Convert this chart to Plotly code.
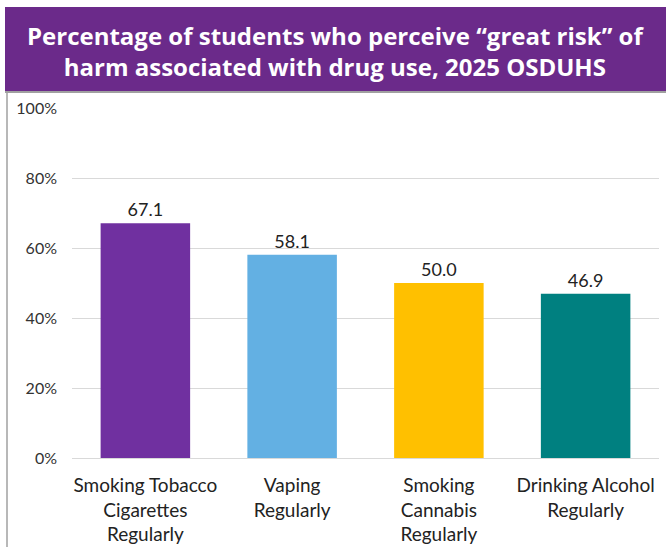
import plotly.graph_objects as go

categories = ["Smoking Tobacco<br>Cigarettes<br>Regularly", "Vaping<br>Regularly",
              "Smoking<br>Cannabis<br>Regularly", "Drinking Alcohol<br>Regularly"]
values = [67.1, 58.1, 50.0, 46.9]
colors = ["#7030A0", "#63B0E3", "#FFC000", "#008080"]
title_text = "Percentage of students who perceive “great risk” of<br>harm associated with drug use, 2025 OSDUHS"

W, H = 666, 547
L, R, T, B = 72, 7, 108, 89
pw, ph = W - L - R, H - T - B

def px(x):
    return (x - L) / pw

def py(y):
    return (H - B - y) / ph

fig = go.Figure(go.Bar(
    x=categories, y=values, marker=dict(color=colors, line=dict(width=0)),
    text=[f"{v:.1f}" for v in values], textposition="outside",
    textfont=dict(family="Lato", size=18, color="#222222"),
    cliponaxis=False, width=0.61,
))

fig.update_layout(
    width=W, height=H, margin=dict(l=L, r=R, t=T, b=B),
    paper_bgcolor="white", plot_bgcolor="white", showlegend=False,
    font=dict(family="Lato", color="#222222"),
    yaxis=dict(range=[0, 100], dtick=20, ticksuffix="%", showgrid=True,
               gridcolor="#D9D9D9", gridwidth=1, zeroline=False,
               tickfont=dict(family="Lato", size=16, color="#333333"),
               ticklabelstandoff=14, fixedrange=True, automargin=False),
    xaxis=dict(showline=True, linecolor="#D9D9D9", linewidth=1,
               tickfont=dict(family="Lato", size=19, color="#222222"),
               ticklabelstandoff=10, automargin=False),
    shapes=[
        dict(type="rect", xref="paper", yref="paper", x0=px(5), x1=px(666), y0=py(92), y1=py(7),
             fillcolor="#6B2A8A", line=dict(width=0), layer="below"),
        dict(type="line", xref="paper", yref="paper", x0=px(5), x1=px(666), y0=py(92), y1=py(92),
             line=dict(color="#A0A0A0", width=2)),
        dict(type="line", xref="paper", yref="paper", x0=px(7), x1=px(7), y0=py(92), y1=py(547),
             line=dict(color="#A0A0A0", width=1.5)),
    ],
    annotations=[dict(text=title_text, xref="paper", yref="paper", x=px(335), y=py(51),
                      xanchor="center", yanchor="middle", showarrow=False,
                      font=dict(family="Open Sans", size=24, color="white", weight="bold"))],
)

fig.write_html("out.html", config={"displayModeBar": False},
               post_script="document.body.style.margin='0';document.body.style.padding='0';")
